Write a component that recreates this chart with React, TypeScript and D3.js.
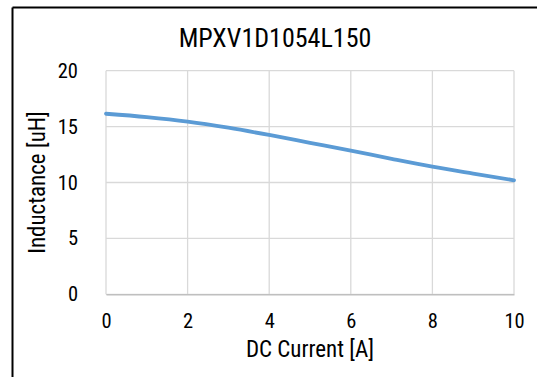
import React, { useEffect, useRef } from 'react'
import * as d3 from 'd3'

const title = 'MPXV1D1054L150'
const xLabel = 'DC Current [A]'
const yLabel = 'Inductance [uH]'

// DC current (A) and inductance (uH)
const current = [0, 1, 2, 3, 4, 5, 6, 7, 8, 9, 10]
const inductance = [16.15, 15.85, 15.45, 14.9, 14.25, 13.55, 12.85, 12.12, 11.42, 10.8, 10.2]
const xTicks = [0, 2, 4, 6, 8, 10]
const yTicks = [0, 5, 10, 15, 20]

const FONT = "'Roboto Condensed', 'Liberation Sans Narrow', 'Arial Narrow', Roboto, sans-serif"

export default function App() {
  const svgRef = useRef<SVGSVGElement | null>(null)
  const width = 537
  const height = 377
  const marginLeft = 106
  const marginRight = 23
  const marginTop = 70.7
  const marginBottom = 82.7

  useEffect(() => {
    const svg = d3.select(svgRef.current)
    svg.selectAll('*').remove()

    const x = d3.scaleLinear().domain([0, 10]).range([marginLeft, width - marginRight])
    const y = d3.scaleLinear().domain([0, 20]).range([height - marginBottom, marginTop])

    svg.append('rect').attr('width', width).attr('height', height).attr('fill', '#fff')

    // frame (only top and left edges show)
    svg.append('line').attr('x1', 12.5).attr('x2', width).attr('y1', 7.5).attr('y2', 7.5)
      .attr('stroke', '#000').attr('stroke-width', 2)
    svg.append('line').attr('x1', 12.5).attr('x2', 12.5).attr('y1', 7.5).attr('y2', height)
      .attr('stroke', '#000').attr('stroke-width', 2)

    // grid
    const grid = svg.append('g').attr('stroke', '#d9d9d9').attr('stroke-width', 1.3)
    grid.selectAll('line.h').data(yTicks).join('line').attr('class', 'h')
      .attr('x1', marginLeft).attr('x2', width - marginRight)
      .attr('y1', d => y(d)).attr('y2', d => y(d))
    grid.selectAll('line.v').data(xTicks).join('line').attr('class', 'v')
      .attr('y1', marginTop).attr('y2', height - marginBottom)
      .attr('x1', d => x(d)).attr('x2', d => x(d))

    // x axis
    svg.append('g')
      .attr('transform', `translate(0,${height - marginBottom})`)
      .call(d3.axisBottom(x).tickValues(xTicks).tickSize(0).tickFormat(d3.format('d')))
      .call(g => g.select('.domain').attr('stroke', '#bfbfbf').attr('stroke-width', 1.5))
      .selectAll('text')
      .attr('y', 34).attr('dy', 0)
      .attr('font-size', '20.5px').attr('font-family', FONT).attr('fill', '#000')

    // y axis
    svg.append('g')
      .attr('transform', `translate(${marginLeft},0)`)
      .call(d3.axisLeft(y).tickValues(yTicks).tickSize(0).tickPadding(28))
      .call(g => g.select('.domain').remove())
      .selectAll('text')
      .attr('font-size', '20.5px').attr('font-family', FONT).attr('fill', '#000')

    // curve
    const line = d3.line<number>()
      .x((_, i) => x(current[i]))
      .y(d => y(d))
      .curve(d3.curveMonotoneX)
    svg.append('path')
      .datum(inductance)
      .attr('d', line)
      .attr('fill', 'none')
      .attr('stroke', '#5b9bd5')
      .attr('stroke-width', 3.8)
      .attr('stroke-linecap', 'round')

    // titles
    svg.append('text').text(title)
      .attr('x', 275).attr('y', 47).attr('text-anchor', 'middle')
      .attr('font-size', '26px').attr('font-family', FONT).attr('fill', '#000')
    svg.append('text').text(xLabel)
      .attr('x', (marginLeft + width - marginRight) / 2).attr('y', 357).attr('text-anchor', 'middle')
      .attr('font-size', '23px').attr('font-family', FONT).attr('fill', '#000')
    svg.append('text').text(yLabel)
      .attr('transform', `translate(45,${(marginTop + height - marginBottom) / 2}) rotate(-90)`)
      .attr('text-anchor', 'middle')
      .attr('font-size', '23px').attr('font-family', FONT).attr('fill', '#000')
  }, [])

  return (
    <svg ref={svgRef} width={width} height={height}
      style={{ position: 'absolute', left: 0, top: 0, display: 'block' }} />
  )
}
